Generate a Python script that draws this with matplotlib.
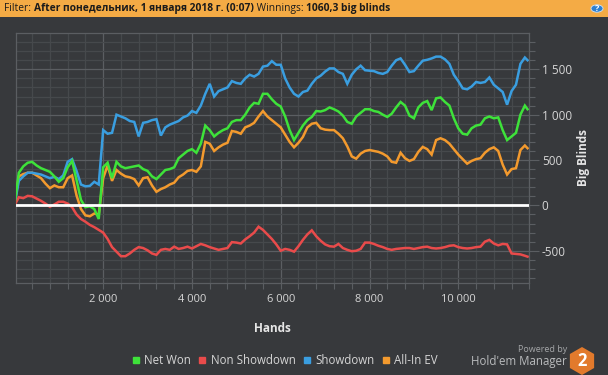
import matplotlib
matplotlib.use("Agg")
import matplotlib.pyplot as plt
from matplotlib.patches import Rectangle, Circle, RegularPolygon
from matplotlib.lines import Line2D
from matplotlib.ticker import MultipleLocator, FuncFormatter

plt.rcParams['font.family'] = ['Open Sans', 'DejaVu Sans']
plt.rcParams['axes.unicode_minus'] = False

# ---------------- data ----------------
hands = [100 * k for k in range(116)] + [11560]

net_won = [0, 360, 430, 470, 480, 440, 410, 390, 370, 320,
           260, 300, 420, 490, 280, 60, -20, -10, -40, -150,
           420, 470, 300, 480, 430, 410, 420, 430, 440, 400,
           380, 320, 290, 340, 390, 400, 420, 520, 560, 600,
           620, 580, 680, 880, 830, 760, 800, 830, 850, 920,
           940, 940, 1000, 1080, 1130, 1120, 1230, 1230, 1170, 1120,
           1090, 980, 830, 720, 800, 880, 940, 975, 1040, 1035,
           1050, 1080, 1060, 1035, 990, 920, 900, 980, 1020, 1060,
           1060, 1040, 1030, 1000, 975, 1010, 1080, 1140, 1100, 990,
           960, 1080, 1130, 1150, 1050, 1180, 1190, 1140, 1100, 960,
           850, 790, 780, 850, 880, 890, 960, 980, 960, 970,
           830, 720, 760, 800, 1000, 1100, 1060]

non_showdown = [0, 90, 80, 105, 100, 75, 50, 20, -15, 10,
                40, 40, 20, -20, -100, -150, -180, -215, -240, -270,
                -300, -370, -460, -510, -560, -560, -530, -490, -460, -470,
                -495, -530, -545, -490, -480, -490, -455, -480, -470, -455,
                -475, -450, -425, -440, -460, -475, -490, -480, -470, -405,
                -410, -420, -375, -340, -300, -235, -270, -320, -370, -430,
                -500, -480, -490, -510, -450, -380, -320, -275, -340, -390,
                -430, -450, -455, -425, -470, -490, -505, -500, -480, -410,
                -410, -425, -445, -460, -480, -490, -480, -475, -470, -470,
                -480, -470, -460, -455, -470, -475, -470, -460, -445, -440,
                -460, -470, -475, -470, -460, -455, -400, -380, -420, -440,
                -425, -430, -530, -535, -540, -555, -565]

showdown = [0, 270, 320, 360, 360, 350, 340, 320, 300, 315,
            290, 330, 480, 510, 380, 230, 210, 215, 260, 230,
            830, 790, 800, 1000, 980, 960, 930, 920, 760, 910,
            920, 940, 950, 770, 860, 890, 910, 930, 970, 990,
            1040, 1020, 1100, 1230, 1340, 1200, 1260, 1280, 1300, 1370,
            1350, 1340, 1400, 1440, 1420, 1450, 1530, 1540, 1590, 1550,
            1550, 1400, 1300, 1230, 1200, 1250, 1265, 1340, 1400, 1430,
            1475, 1510, 1510, 1470, 1450, 1340, 1440, 1500, 1540, 1490,
            1485, 1480, 1460, 1450, 1470, 1540, 1600, 1620, 1550, 1470,
            1480, 1540, 1595, 1605, 1620, 1640, 1640, 1610, 1560, 1440,
            1370, 1290, 1280, 1310, 1360, 1350, 1360, 1410, 1330, 1290,
            1250, 1110, 1260, 1330, 1560, 1630, 1600]

allin_ev = [0, 320, 345, 360, 360, 330, 300, 240, 190, 220,
            200, 200, 300, 330, 110, -40, -110, -120, -90, -100,
            300, 440, 270, 390, 350, 320, 310, 290, 220, 300,
            310, 220, 150, 180, 200, 230, 250, 310, 340, 380,
            390, 370, 430, 700, 680, 600, 640, 670, 690, 820,
            810, 790, 860, 880, 910, 980, 1040, 980, 940, 900,
            860, 780, 700, 640, 690, 755, 860, 900, 910, 850,
            835, 830, 830, 790, 740, 650, 540, 515, 570, 600,
            610, 600, 590, 570, 540, 480, 470, 580, 520, 490,
            510, 590, 645, 620, 560, 720, 740, 720, 680, 620,
            560, 510, 460, 490, 510, 520, 580, 620, 640, 600,
            450, 340, 400, 410, 610, 660, 630]

series_names = ["Net Won", "Non Showdown", "Showdown", "All-In EV"]
series_colors = ["#3ee23a", "#e94b4b", "#3a9ee0", "#f39a2e"]

x_major = 2000
x_minor = 400
y_major = 500
y_minor = 100
x_range = (25, 11600)
y_range = (-850, 1897)

# ---------------- figure ----------------
W, H = 608, 375
BG = "#37393c"
fig = plt.figure(figsize=(W / 100, H / 100), dpi=100)
fig.patch.set_facecolor(BG)

def fx(px):
    return px / W

def fy(py):
    return 1 - py / H

# header bar
fig.add_artist(Rectangle((0, fy(17)), 1, 17 / H, transform=fig.transFigure,
                         facecolor="#f4ab45", edgecolor="none", zorder=0))

ax = fig.add_axes([fx(15.5), fy(282.5), (529.3 - 15.5) / W, (282.5 - 33.3) / H])
ax.set_facecolor(BG)

data = [net_won, non_showdown, showdown, allin_ev]
order = [3, 2, 1, 0]
for z, i in enumerate(order):
    ax.plot(hands, data[i], color=series_colors[i], lw=1.8, zorder=3 + z,
            solid_joinstyle="miter")

ax.axhline(0, color="white", lw=2.0, zorder=10)

ax.set_xlim(*x_range)
ax.set_ylim(*y_range)

ax.xaxis.set_major_locator(MultipleLocator(x_major))
ax.xaxis.set_minor_locator(MultipleLocator(x_minor))
ax.yaxis.set_major_locator(MultipleLocator(y_major))
ax.yaxis.set_minor_locator(MultipleLocator(y_minor))

fmt = FuncFormatter(lambda v, p: f"{v:,.0f}".replace(",", " "))
ax.xaxis.set_major_formatter(fmt)
ax.yaxis.set_major_formatter(fmt)

ax.grid(which="major", color="#5b5e62", lw=0.9, zorder=1)
ax.grid(which="minor", color="#46494c", lw=0.9, zorder=0.5)
ax.set_axisbelow(True)

for s in ax.spines.values():
    s.set_color("#5b5e62")
    s.set_linewidth(0.9)

ax.yaxis.tick_right()
ax.yaxis.set_label_position("right")
ax.tick_params(axis="x", which="both", length=4, width=0.8, color="#5b5e62",
               labelcolor="#d6d6d6", labelsize=8, pad=4)
ax.tick_params(axis="y", which="major", length=7, width=0.8, color="#5b5e62",
               labelcolor="#d6d6d6", labelsize=8.5, pad=2)
ax.tick_params(axis="y", which="minor", length=4, width=0.8, color="#5b5e62")
ax.tick_params(axis="y", which="both", left=False, right=True)

fig.text(fx(272), fy(328), "Hands", ha="center", va="center", color="#e6e6e6",
         fontsize=8.5, fontweight="bold")
fig.text(fx(583), fy(158), "Big Blinds", ha="center", va="center", rotation=90,
         color="#e6e6e6", fontsize=8.5, fontweight="bold")

# legend
handles = [Line2D([], [], marker="s", linestyle="none", markersize=5,
                  markerfacecolor=c, markeredgecolor=c) for c in series_colors]
leg = fig.legend(handles, series_names, loc="center", bbox_to_anchor=(fx(285), fy(361)),
                 ncol=4, frameon=False, fontsize=8.3, handlelength=0.6, handletextpad=0.4,
                 columnspacing=0.7, labelcolor="#d6d6d6", borderpad=0)

# header text
renderer = fig.canvas.get_renderer()
parts = [("Filter: ", "normal"), ("After понедельник, 1 января 2018 г. (0:07)", "bold"),
         (" Winnings: ", "normal"), ("1060,3 big blinds", "bold")]
xpos = 4
for txt, wt in parts:
    t = fig.text(fx(xpos), fy(8.5), txt, ha="left", va="center", fontsize=7.4,
                 fontweight=wt, color="#1b1b1b")
    bb = t.get_window_extent(renderer=renderer)
    xpos += bb.width

# help icon
fig.add_artist(Circle((fx(597), fy(8.5)), 6.0 / W, transform=fig.transFigure,
                      facecolor="#2d7fd0", edgecolor="#cfe3f7", lw=0.6))
fig.text(fx(597), fy(8.5), "?", ha="center", va="center", fontsize=6.5,
         fontweight="bold", color="white")

# powered by
fig.text(fx(567), fy(349), "Powered by", ha="right", va="center", fontsize=6.5, color="#a4a6a8")
fig.text(fx(567), fy(362), "Hold'em Manager", ha="right", va="center", fontsize=8.3, color="#b9bbbd")
hexa = RegularPolygon((582, H - 361), numVertices=6, radius=14, orientation=0,
                      facecolor="#e27a2c", edgecolor="none",
                      transform=None)
fig.add_artist(hexa)
fig.text(fx(582), fy(361), "2", ha="center", va="center", fontsize=12,
         fontweight="bold", color="white")

fig.savefig("out.png", dpi=100, facecolor=BG)
